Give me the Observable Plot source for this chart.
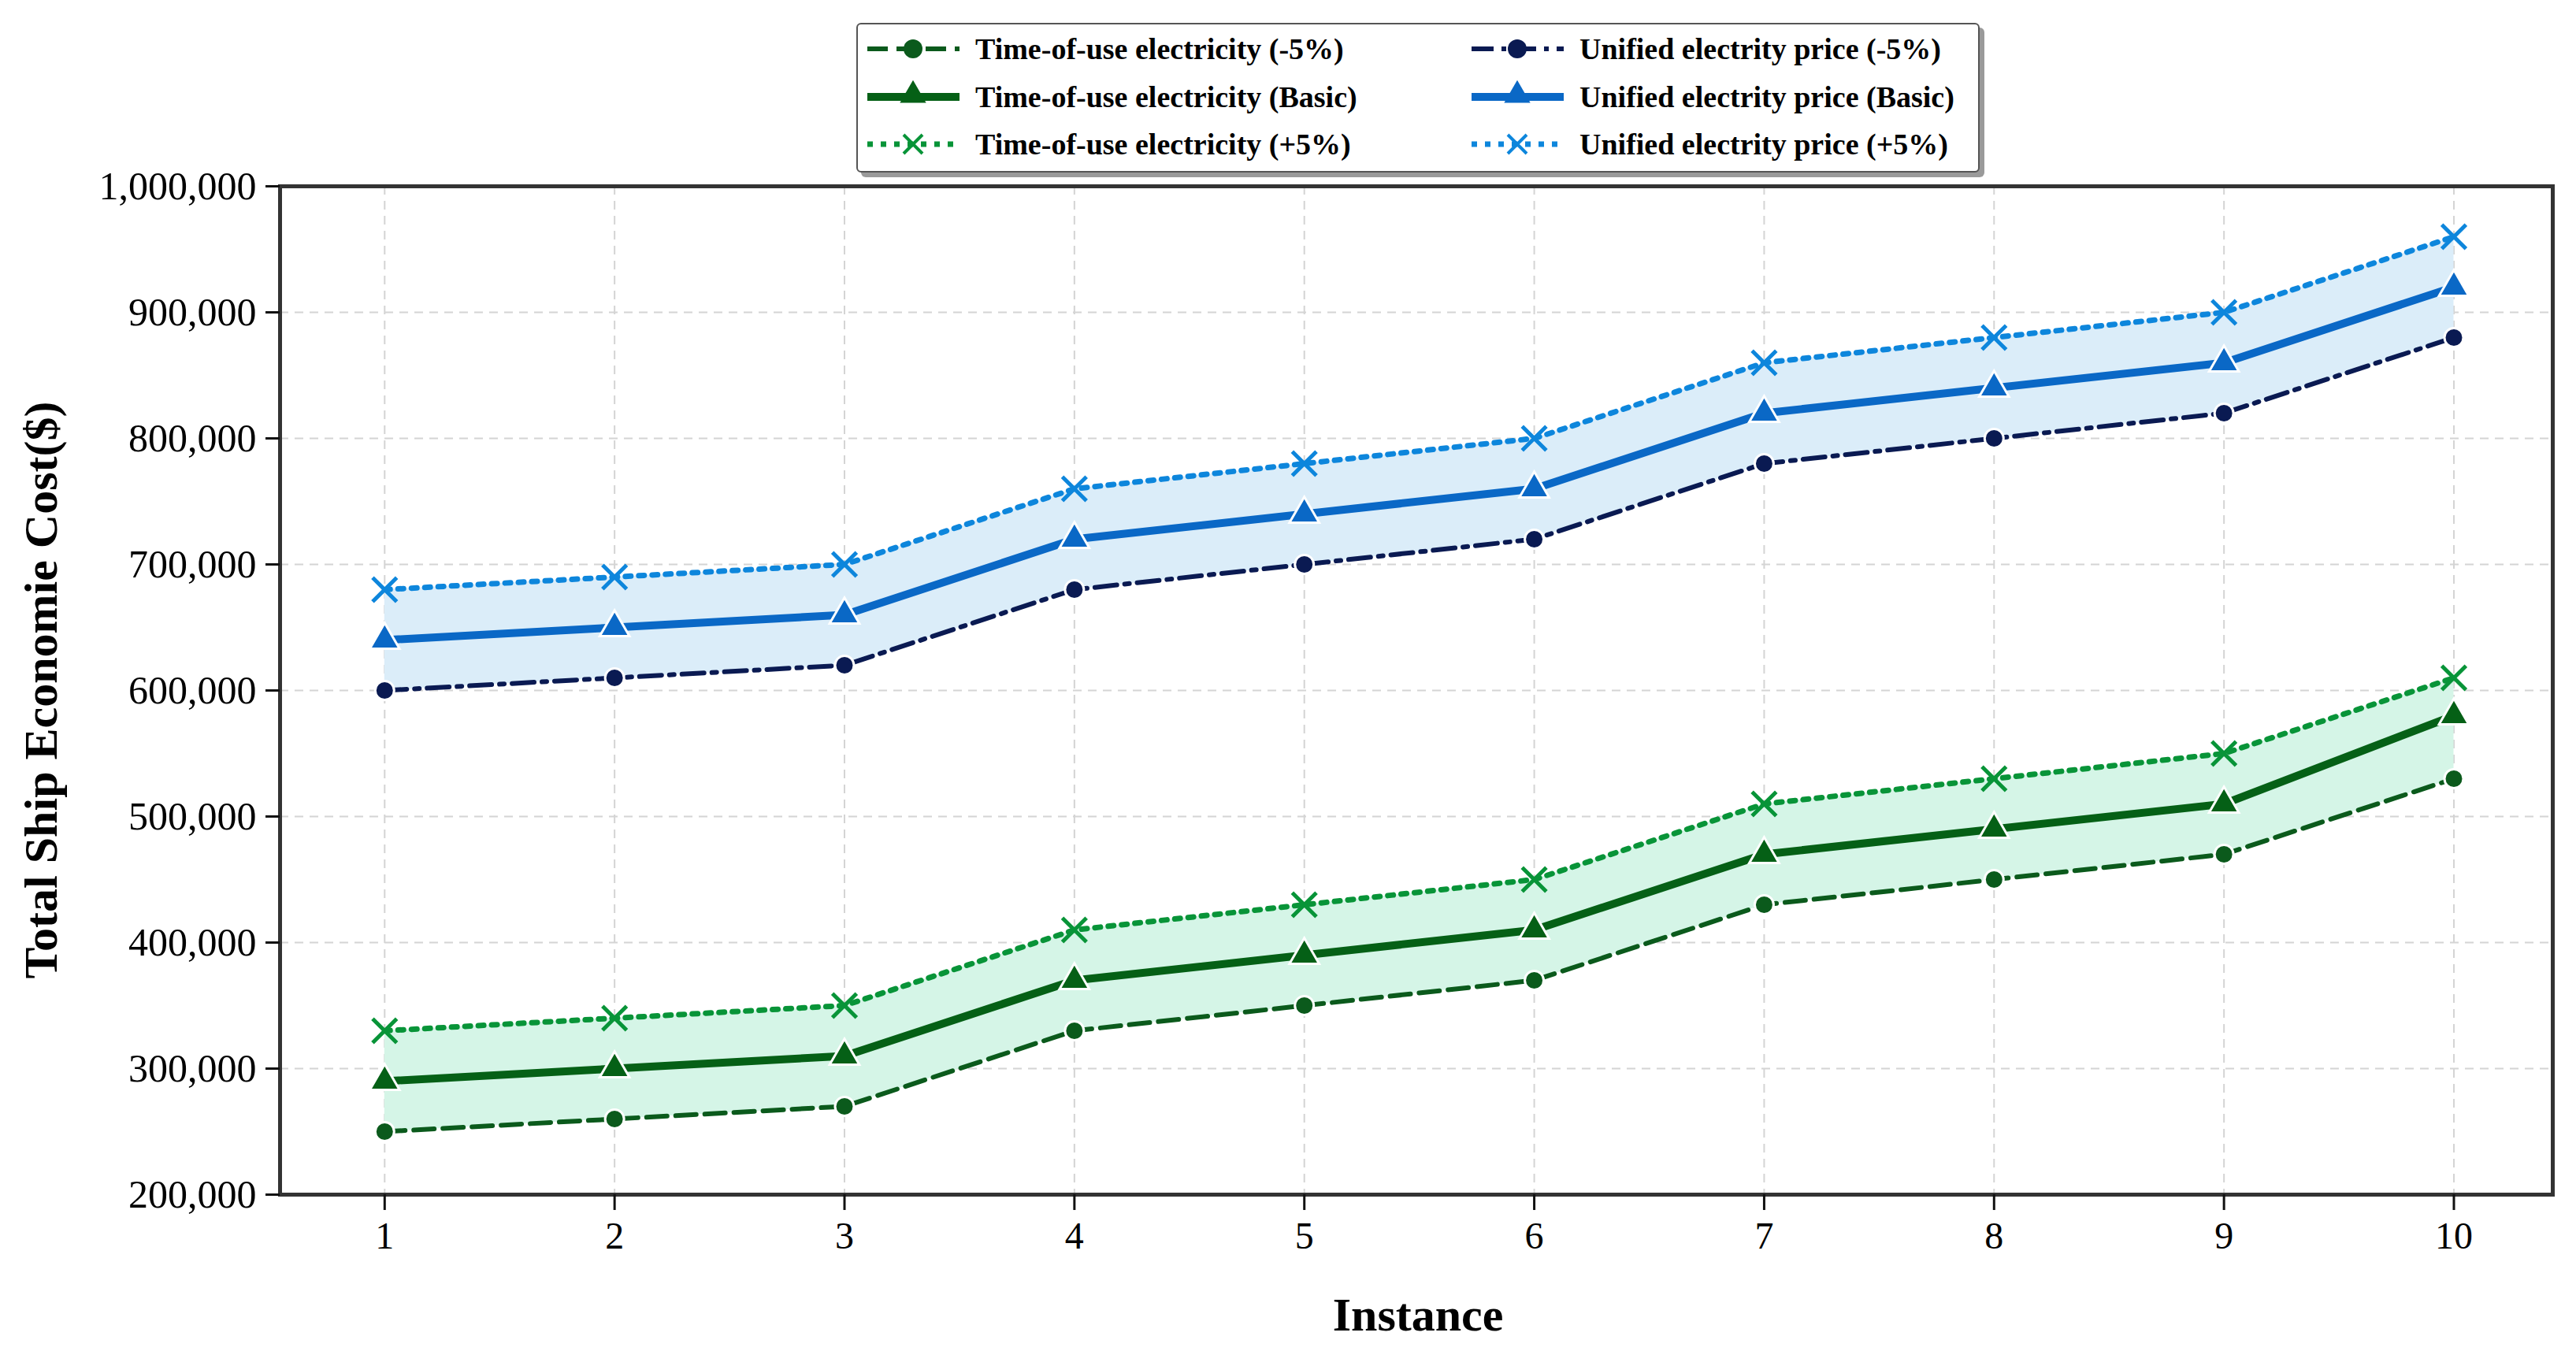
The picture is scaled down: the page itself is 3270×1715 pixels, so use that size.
<!DOCTYPE html>
<html>
<head>
<meta charset="utf-8">
<script src="https://cdn.jsdelivr.net/npm/d3@7"></script>
<script src="https://cdn.jsdelivr.net/npm/@observablehq/plot@0.6"></script>
<style>
  html, body { margin: 0; padding: 0; background: #fff; }
  #wrap { position: relative; width: 3270px; height: 1715px; font-family: "Liberation Serif", "Times New Roman", serif; }
  #chart { position: absolute; left: 0; top: 0; }
  #legend { position: absolute; left: 1087px; top: 29px; width: 1422px; height: 186px; border: 2px solid #555; border-radius: 6px; background: #fff; box-shadow: 6px 6px 0 #9a9a9a; }
  .lg-item { position: absolute; display: flex; align-items: center; height: 50px; font-weight: bold; font-size: 38px; color: #000; white-space: nowrap; }
  .lg-item svg { margin-right: 16px; }
  #ytitle { position: absolute; left: 52px; top: 876px; transform: translate(-50%, -50%) rotate(-90deg); font-weight: bold; font-size: 60px; white-space: nowrap; }
  #xtitle { position: absolute; left: 1800px; top: 1669px; transform: translate(-50%, -50%); font-weight: bold; font-size: 60px; white-space: nowrap; }
</style>
</head>
<body>
<div id="wrap">
  <div id="chart"></div>
  <div id="legend"></div>
  <div id="ytitle">Total Ship Economie Cost($)</div>
  <div id="xtitle">Instance</div>
</div>
<script>
// ---- data ----
const instances = [1, 2, 3, 4, 5, 6, 7, 8, 9, 10];
const touMinus5   = [250000, 260000, 270000, 330000, 350000, 370000, 430000, 450000, 470000, 530000];
const touBasic    = [290000, 300000, 310000, 370000, 390000, 410000, 470000, 490000, 510000, 580000];
const touPlus5    = [330000, 340000, 350000, 410000, 430000, 450000, 510000, 530000, 550000, 610000];
const uniMinus5   = [600000, 610000, 620000, 680000, 700000, 720000, 780000, 800000, 820000, 880000];
const uniBasic    = [640000, 650000, 660000, 720000, 740000, 760000, 820000, 840000, 860000, 920000];
const uniPlus5    = [680000, 690000, 700000, 760000, 780000, 800000, 860000, 880000, 900000, 960000];
const yTicks = [200000, 300000, 400000, 500000, 600000, 700000, 800000, 900000, 1000000];
const seriesNames = [
  "Time-of-use electricity (-5%)", "Time-of-use electricity (Basic)", "Time-of-use electricity (+5%)",
  "Unified electrity price (-5%)", "Unified electrity price (Basic)", "Unified electrity price (+5%)"
];
const seriesValues = [touMinus5, touBasic, touPlus5, uniMinus5, uniBasic, uniPlus5];

// ---- styles ----
const styles = [
  {stroke: "#0b5a1c", width: 6, dash: "26,11", symbol: "circle"},
  {stroke: "#056016", width: 10, dash: null, symbol: "triangle"},
  {stroke: "#089438", width: 7, dash: "7,10", symbol: "times"},
  {stroke: "#0a1a52", width: 6, dash: "28,10,6,10", symbol: "circle"},
  {stroke: "#0a68c6", width: 10, dash: null, symbol: "triangle"},
  {stroke: "#0d86dc", width: 7, dash: "7,10", symbol: "times"}
];

const bandGreen = instances.map((x, i) => ({x, lo: touMinus5[i], hi: touPlus5[i]}));
const bandBlue = instances.map((x, i) => ({x, lo: uniMinus5[i], hi: uniPlus5[i]}));

const marks = [
  Plot.gridX(instances, {stroke: "#d4d4d4", strokeOpacity: 1, strokeWidth: 2, strokeDasharray: "11,8"}),
  Plot.gridY(yTicks, {stroke: "#d4d4d4", strokeOpacity: 1, strokeWidth: 2, strokeDasharray: "11,8"}),
  Plot.areaY(bandGreen, {x: "x", y1: "lo", y2: "hi", fill: "#d5f5e7"}),
  Plot.areaY(bandBlue, {x: "x", y1: "lo", y2: "hi", fill: "#dbedf9"})
];

seriesValues.forEach((vals, k) => {
  const s = styles[k];
  const rows = instances.map((x, i) => ({x, y: vals[i]}));
  marks.push(Plot.line(rows, {x: "x", y: "y", stroke: s.stroke, strokeWidth: s.width, strokeDasharray: s.dash, strokeLinejoin: "round"}));
});
seriesValues.forEach((vals, k) => {
  const s = styles[k];
  const rows = instances.map((x, i) => ({x, y: vals[i]}));
  if (s.symbol === "times") {
    marks.push(Plot.dot(rows, {x: "x", y: "y", symbol: "times", r: 14, stroke: s.stroke, strokeWidth: 5}));
  } else if (s.symbol === "triangle") {
    marks.push(Plot.dot(rows, {x: "x", y: "y", symbol: "triangle", r: 14, fill: s.stroke, stroke: "#fff", strokeWidth: 3}));
  } else {
    marks.push(Plot.dot(rows, {x: "x", y: "y", symbol: "circle", r: 12, fill: s.stroke, stroke: "#fff", strokeWidth: 3}));
  }
});

marks.push(
  Plot.frame({stroke: "#333", strokeWidth: 5}),
  Plot.axisX(instances, {tickSize: 20, tickPadding: 14, fontSize: 48, tickFormat: d => String(d), label: null, strokeWidth: 3, stroke: "#111"}),
  Plot.axisY(yTicks, {tickSize: 18, tickPadding: 12, fontSize: 50, tickFormat: d3.format(","), label: null, strokeWidth: 3, stroke: "#111"})
);

const chart = Plot.plot({
  width: 3270,
  height: 1715,
  marginTop: 236,
  marginBottom: 199,
  marginLeft: 355,
  marginRight: 30,
  x: {domain: [0.545, 10.43]},
  y: {domain: [200000, 1000000]},
  style: {fontFamily: "'Liberation Serif', 'Times New Roman', serif", background: "#fff", color: "#000"},
  marks
});
document.getElementById("chart").appendChild(chart);

// ---- legend ----
const legend = d3.select("#legend");
const pos = [[8, 6], [8, 67], [8, 127], [775, 6], [775, 67], [775, 127]];
seriesNames.forEach((name, k) => {
  const s = styles[k];
  const item = legend.append("div").attr("class", "lg-item")
    .style("left", pos[k][0] + "px").style("top", pos[k][1] + "px");
  const svg = item.append("svg").attr("width", 125).attr("height", 50);
  svg.append("line").attr("x1", 4).attr("x2", 121).attr("y1", 25).attr("y2", 25)
    .attr("stroke", s.stroke).attr("stroke-width", s.width)
    .attr("stroke-dasharray", s.dash);
  if (s.symbol === "circle") {
    svg.append("circle").attr("cx", 62).attr("cy", 25).attr("r", 12).attr("fill", s.stroke);
  } else if (s.symbol === "triangle") {
    svg.append("path").attr("d", d3.symbol(d3.symbolTriangle, 480)()).attr("transform", "translate(62,23)").attr("fill", s.stroke);
  } else {
    svg.append("path").attr("d", "M-12,-12L12,12M-12,12L12,-12").attr("transform", "translate(62,25)").attr("stroke", s.stroke).attr("stroke-width", 4).attr("fill", "none");
  }
  item.append("span").text(name);
});
</script>
</body>
</html>
